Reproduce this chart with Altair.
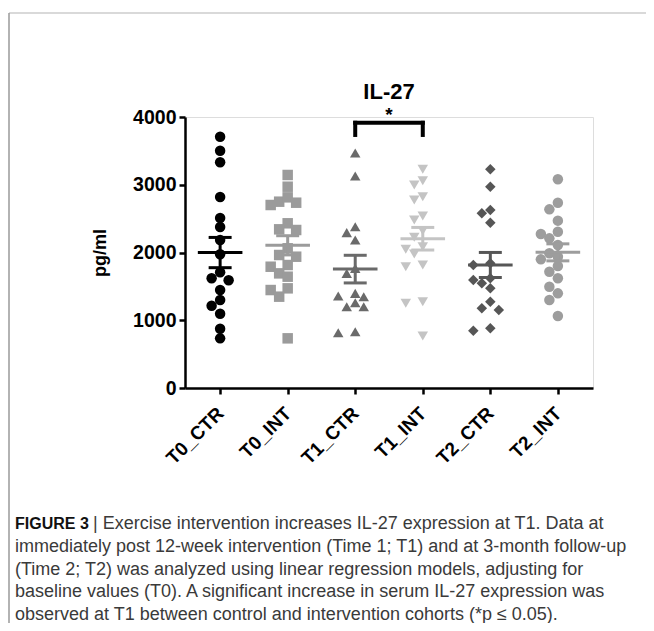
import math
import altair as alt
import pandas as pd

groups = ["T0_CTR", "T0_INT", "T1_CTR", "T1_INT", "T2_CTR", "T2_INT"]

t0_ctr = [3709, 3503, 3331, 2819, 2509, 2376, 2184, 1973, 1708, 1590, 1619,
          1446, 1299, 1215, 1097, 875, 733]
t0_int = [3144, 2971, 2750, 2814, 2701, 2735, 2431, 2332, 2342, 2062, 1938,
          1963, 1815, 1790, 1692, 1643, 1471, 1446, 1348, 733]
t1_ctr = [3469, 3129, 2381, 2293, 2184, 1766, 1692, 1358, 1348, 1397, 1259,
          1200, 1200, 816, 831]
t1_int = [3228, 3060, 2996, 2824, 2775, 2539, 2480, 2322, 2224, 2086, 2047,
          1978, 1815, 1790, 1274, 1250, 768]
t2_ctr = [3228, 2971, 2578, 2627, 2440, 1815, 1840, 1619, 1594, 1545, 1471,
          1274, 1151, 1176, 846, 881]
t2_int = [3080, 2735, 2637, 2470, 2307, 2273, 2209, 2111, 1988, 1938, 1899,
          1801, 1717, 1619, 1495, 1397, 1299, 1063]

series = [t0_ctr, t0_int, t1_ctr, t1_int, t2_ctr, t2_int]

point_colors = ["#000000", "#9b9b9b", "#6a6a6a", "#c4c4c4", "#565656", "#9d9d9d"]
err_colors = ["#000000", "#8f8f8f", "#666666", "#8c8c8c", "#555555", "#9a9a9a"]
shapes = ["circle", "square", "triangle-up", "triangle-down", "diamond", "circle"]
sizes = [110, 110, 100, 100, 75, 155]

title_text = "IL-27"
y_title = "pg/ml"
y_ticks = [0, 1000, 2000, 3000, 4000]
sig_pair = [2, 3]
sig_label = "*"
sig_level = 3915
sig_leg = 3735

caption_bold = "FIGURE 3"
caption_lines = [
    "|  Exercise intervention increases IL-27 expression at T1. Data at",
    "immediately post 12-week intervention (Time 1; T1) and at 3-month follow-up",
    "(Time 2; T2) was analyzed using linear regression models, adjusting for",
    "baseline values (T0). A significant increase in serum IL-27 expression was",
    "observed at T1 between control and intervention cohorts (*p \u2264 0.05).",
]

W, H = 408, 271
X_DOMAIN = [-0.52, 5.52]
PX_PER_UNIT = W / (X_DOMAIN[1] - X_DOMAIN[0])
PX_PER_VAL = H / 4000.0


def swarm(vals, step=8.5, diam=9.0):
    order = sorted(range(len(vals)), key=lambda i: -vals[i])
    placed = []
    offs = [0.0] * len(vals)
    for i in order:
        y = vals[i] * PX_PER_VAL
        best_x, best_d = 0.0, -1.0
        for k in [0, -1, 1, -2, 2]:
            x = k * step
            d = min([math.hypot(x - px, y - py) for px, py in placed] or [99.0])
            if d >= diam:
                best_x = x
                break
            if d > best_d:
                best_x, best_d = x, d
        placed.append((best_x, y))
        offs[i] = best_x / PX_PER_UNIT
    return offs


rows = []
for gi, (g, vals) in enumerate(zip(groups, series)):
    for v, o in zip(vals, swarm(vals)):
        rows.append({"group": g, "gi": gi, "value": v, "xpos": gi + o})
df = pd.DataFrame(rows)

xscale = alt.Scale(domain=X_DOMAIN, nice=False, zero=False)
yscale = alt.Scale(domain=[0, 4000], nice=False)
label_expr = "[" + ",".join("'" + g + "'" for g in groups) + "][round(datum.value)]"

xaxis = alt.Axis(values=list(range(len(groups))), labelExpr=label_expr, title=None,
                 grid=False, labelAngle=315, labelAlign="right", labelBaseline="middle",
                 labelFontSize=19, labelFont="Liberation Sans", labelFontWeight="bold",
                 labelPadding=16, tickSize=6, tickWidth=2.5, domainWidth=2.5,
                 domainColor="#000", tickColor="#000", labelColor="#000")
yaxis = alt.Axis(values=y_ticks, format="d", grid=False, title=y_title,
                 labelFontSize=19.5, labelFont="Liberation Sans", labelFontWeight="bold",
                 labelPadding=3, tickSize=6, tickWidth=2.5, domainWidth=2.5,
                 domainColor="#000", tickColor="#000", labelColor="#000",
                 titleFont="Liberation Sans", titleFontSize=18, titleFontWeight="bold",
                 titleX=-85, titleY=H / 2, titleAngle=270, titleAlign="center",
                 titleBaseline="middle", titleColor="#000")

color_pts = alt.Color("group:N", scale=alt.Scale(domain=groups, range=point_colors), legend=None)
color_err = alt.Color("group:N", scale=alt.Scale(domain=groups, range=err_colors), legend=None)

points = alt.Chart(df).mark_point(filled=True, opacity=1, strokeWidth=0).encode(
    x=alt.X("xpos:Q", scale=xscale, axis=xaxis),
    y=alt.Y("value:Q", scale=yscale, axis=yaxis),
    color=color_pts,
    shape=alt.Shape("group:N", scale=alt.Scale(domain=groups, range=shapes), legend=None),
    size=alt.Size("group:N", scale=alt.Scale(domain=groups, range=sizes), legend=None),
)

agg = alt.Chart(df).transform_aggregate(
    mean="mean(value)", se="stderr(value)", groupby=["group", "gi"]
).transform_calculate(
    lo="datum.mean - datum.se", hi="datum.mean + datum.se",
    cl="datum.gi - 0.17", cr="datum.gi + 0.17",
    ml="datum.gi - 0.33", mr="datum.gi + 0.33",
)

vbar = agg.mark_rule(strokeWidth=3).encode(
    x=alt.X("gi:Q", scale=xscale), y=alt.Y("lo:Q", scale=yscale), y2="hi:Q", color=color_err)
cap_hi = agg.mark_rule(strokeWidth=3).encode(
    x=alt.X("cl:Q", scale=xscale), x2="cr:Q", y=alt.Y("hi:Q", scale=yscale), color=color_err)
cap_lo = agg.mark_rule(strokeWidth=3).encode(
    x=alt.X("cl:Q", scale=xscale), x2="cr:Q", y=alt.Y("lo:Q", scale=yscale), color=color_err)
mean_line = agg.mark_rule(strokeWidth=3).encode(
    x=alt.X("ml:Q", scale=xscale), x2="mr:Q", y=alt.Y("mean:Q", scale=yscale), color=color_err)

br = pd.DataFrame({"x1": [sig_pair[0]], "x2": [sig_pair[1]], "y": [sig_level], "yl": [sig_leg],
                   "xm": [(sig_pair[0] + sig_pair[1]) / 2], "lab": [sig_label]})
br_h = alt.Chart(br).mark_rule(strokeWidth=4, color="#000", strokeCap="square").encode(
    x=alt.X("x1:Q", scale=xscale), x2="x2:Q", y=alt.Y("y:Q", scale=yscale))
br_l = alt.Chart(br).mark_rule(strokeWidth=4, color="#000", strokeCap="square").encode(
    x=alt.X("x1:Q", scale=xscale), y=alt.Y("y:Q", scale=yscale), y2="yl:Q")
br_r = alt.Chart(br).mark_rule(strokeWidth=4, color="#000", strokeCap="square").encode(
    x=alt.X("x2:Q", scale=xscale), y=alt.Y("y:Q", scale=yscale), y2="yl:Q")
star = alt.Chart(br).mark_text(fontSize=19, fontWeight="bold", font="Liberation Sans",
                               baseline="middle", dy=2).encode(
    x=alt.X("xm:Q", scale=xscale), y=alt.value(-4), text="lab:N")

title = alt.Chart(pd.DataFrame({"t": [title_text]})).mark_text(
    fontSize=22, fontWeight="bold", font="Liberation Sans", baseline="middle", color="#000"
).encode(x=alt.value(W / 2), y=alt.value(-25), text="t:N")

frame_top = alt.Chart(pd.DataFrame({"a": [0]})).mark_rule(color="#cccccc", strokeWidth=1.5).encode(
    x=alt.value(-176), x2=alt.value(475), y=alt.value(-104))
frame_left = alt.Chart(pd.DataFrame({"a": [0]})).mark_rule(color="#9a9a9a", strokeWidth=1.5).encode(
    x=alt.value(-176), y=alt.value(-104), y2=alt.value(520))

cap_df = pd.DataFrame({"line": caption_lines, "i": list(range(len(caption_lines)))})
cap_text = alt.Chart(cap_df).transform_calculate(
    py="407 + datum.i * 22.8",
    px="datum.i == 0 ? -92 : -170",
).mark_text(align="left", baseline="middle", fontSize=18, font="Liberation Sans",
            color="#3a3a3a").encode(
    x=alt.X("px:Q", scale=None), y=alt.Y("py:Q", scale=None), text="line:N")
cap_bold = alt.Chart(pd.DataFrame({"t": [caption_bold]})).mark_text(
    align="left", baseline="middle", fontSize=16, font="Liberation Sans", fontWeight="bold",
    color="#111111").encode(x=alt.value(-170), y=alt.value(407), text="t:N")

chart = alt.layer(
    frame_top, frame_left, points, vbar, cap_hi, cap_lo, mean_line,
    br_h, br_l, br_r, star, title, cap_text, cap_bold
).properties(
    width=W, height=H,
    autosize=alt.AutoSizeParams(type="none"),
    padding={"left": 177, "top": 109, "right": 53, "bottom": 235},
).configure_view(stroke=None).configure(background="white")

chart.save("out.html", embed_options={"renderer": "svg", "actions": False})
